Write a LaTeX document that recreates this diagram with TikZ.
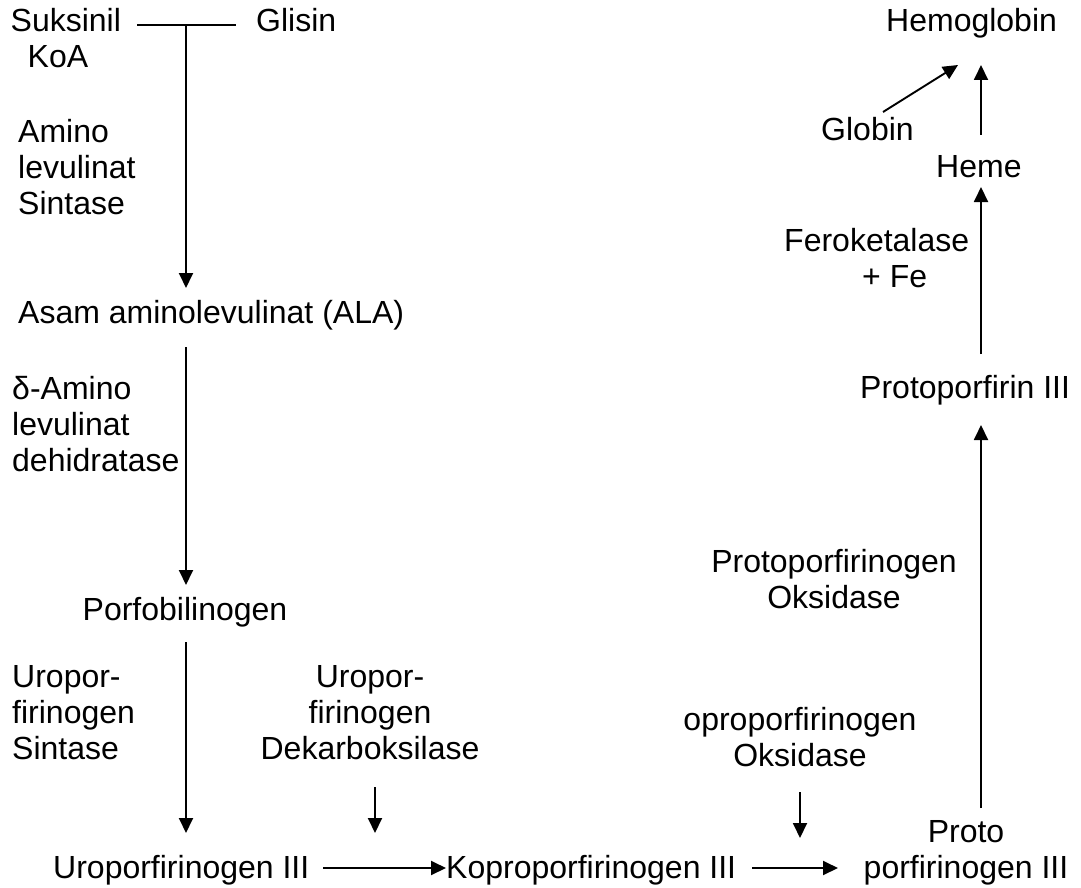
\documentclass[tikz,border=0pt]{standalone}
\usepackage{fontspec}
\setmainfont{Liberation Sans}
\usetikzlibrary{arrows.meta}
\begin{document}
\begin{tikzpicture}[x=1pt,y=-1pt,
  lbl/.style={inner sep=0pt, font=\fontsize{32}{36}\selectfont},
  arr/.style={line width=1.9pt, -{Triangle[length=15pt,width=14pt]}},
  ln/.style={line width=1.9pt}]
\useasboundingbox (0,0) rectangle (1081,888);
% top left (base anchor of a multi-line node = baseline of its last line)
\node[lbl, anchor=base west, align=left] (suk) at (10.5,68) {Suksinil\\\hspace*{17pt}KoA};
\node[lbl, anchor=base west] (gli) at (256,32) {Glisin};
\coordinate (jl) at (137,25);
\coordinate (jr) at (236,25);
\coordinate (j1) at (186,25);
\draw[ln] (jl) -- (jr);
\node[lbl, anchor=base west, align=left] (e1) at (18,214) {Amino\\levulinat\\Sintase};
\node[lbl, anchor=base west] (ala) at (18,323) {Asam aminolevulinat (ALA)};
\coordinate (t1) at (186,288);
\draw[arr] (j1) -- (t1);
\node[lbl, anchor=base west, align=left] (e2) at (12,471) {δ-Amino\\levulinat\\dehidratase};
\coordinate (s2) at (186,347);
\coordinate (t2) at (186,585);
\draw[arr] (s2) -- (t2);
\node[lbl, anchor=base] (pbg) at (185,620) {Porfobilinogen};
\coordinate (s3) at (186,642);
\coordinate (t3) at (186,833);
\draw[arr] (s3) -- (t3);
\node[lbl, anchor=base west, align=left] (e3) at (12,759) {Uropor-\\firinogen\\Sintase};
\node[lbl, anchor=base, align=center] (e4) at (370,759) {Uropor-\\firinogen\\Dekarboksilase};
\coordinate (s4) at (375,787);
\coordinate (t4) at (375,833);
\draw[arr] (s4) -- (t4);
% bottom row
\node[lbl, anchor=base west] (uro) at (53,878) {Uroporfirinogen III};
\node[lbl, anchor=base west] (kop) at (446,878) {Koproporfirinogen III};
\node[lbl, anchor=base, align=center] (ppg) at (966,878) {Proto\\porfirinogen III};
\coordinate (h1) at (323,868);
\coordinate (h2) at (752,868);
\draw[arr] (h1) -- (kop.west |- h1);
\draw[arr] (h2) -- (838,868) coordinate (h2t);
\node[lbl, anchor=base, align=center] (e5) at (800,766) {oproporfirinogen\\Oksidase};
\coordinate (s5) at (800,792);
\coordinate (t5) at (800,838);
\draw[arr] (s5) -- (t5);
% right column
\coordinate (s6) at (981,808);
\coordinate (t6) at (981,425);
\draw[arr] (s6) -- (t6);
\node[lbl, anchor=base, align=center] (e6) at (834,608) {Protoporfirinogen\\Oksidase};
\node[lbl, anchor=base west] (pp) at (860,398) {Protoporfirin III};
\coordinate (s7) at (981,354);
\coordinate (t7) at (981,187);
\draw[arr] (s7) -- (t7);
\node[lbl, anchor=base west, align=left] (e7) at (784,287) {Feroketalase\\\hspace*{78pt}+ Fe};
\node[lbl, anchor=base west] (heme) at (936,177) {Heme};
\coordinate (s8) at (981,135);
\coordinate (t8) at (981,65);
\draw[arr] (s8) -- (t8);
\node[lbl, anchor=base west] (glo) at (821,140) {Globin};
\coordinate (s9) at (883,112);
\coordinate (t9) at (958,65);
\draw[arr] (s9) -- (t9);
\node[lbl, anchor=base west] (hb) at (886,32) {Hemoglobin};
\end{tikzpicture}
\end{document}
